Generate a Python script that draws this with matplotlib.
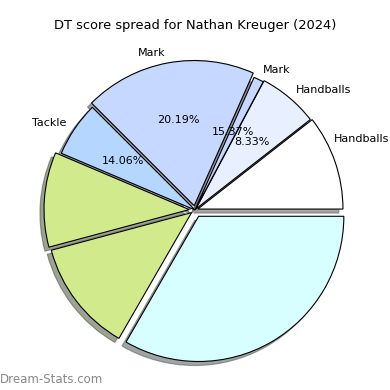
import matplotlib
matplotlib.use("Agg")
import matplotlib.pyplot as plt
import numpy as np

# slice sizes (degrees of arc)
sizes = [38, 24, 4, 69, 22, 38, 45, 120]
labels = ["Handballs", "Handballs", "Mark", "Mark", "Tackle", "", "", ""]
pct_text = ["", "8.33%", "15.37%", "20.19%", "14.06%", "", "", ""]
colors = ["#ffffff", "#e8f0ff", "#c6d8ff", "#c6d8ff", "#b4d6ff",
          "#d0ea8c", "#d0ea8c", "#d8ffff"]
explode = [0.02, 0.01, 0.0, 0.03, 0.0, 0.04, 0.03, 0.05]

fig = plt.figure(figsize=(3.9, 3.9), dpi=100)
size = 363 / 390
ax = fig.add_axes([0.5 - size / 2, 180 / 390 - size / 2, size, size])

pct_iter = iter(pct_text)
wedges, texts, autotexts = ax.pie(
    sizes, labels=labels, colors=colors, explode=explode,
    autopct=lambda p: next(pct_iter), shadow=True, startangle=0,
    labeldistance=1.07, textprops={"fontsize": 8},
    wedgeprops={"edgecolor": "black", "linewidth": 0.8})

# first label sits a bit higher in the original so it fits the frame
a = np.deg2rad(27)
texts[0].set_position((1.07 * np.cos(a), 1.07 * np.sin(a)))

fig.text(0.5, 1 - 25 / 390, "DT score spread for Nathan Kreuger (2024)",
         fontsize=9.4, ha="center", va="center")
fig.text(0.0, 0.01, "Dream-Stats.com", fontsize=8.5, color="#888888",
         ha="left", va="bottom")

fig.savefig("out.png", dpi=100)
